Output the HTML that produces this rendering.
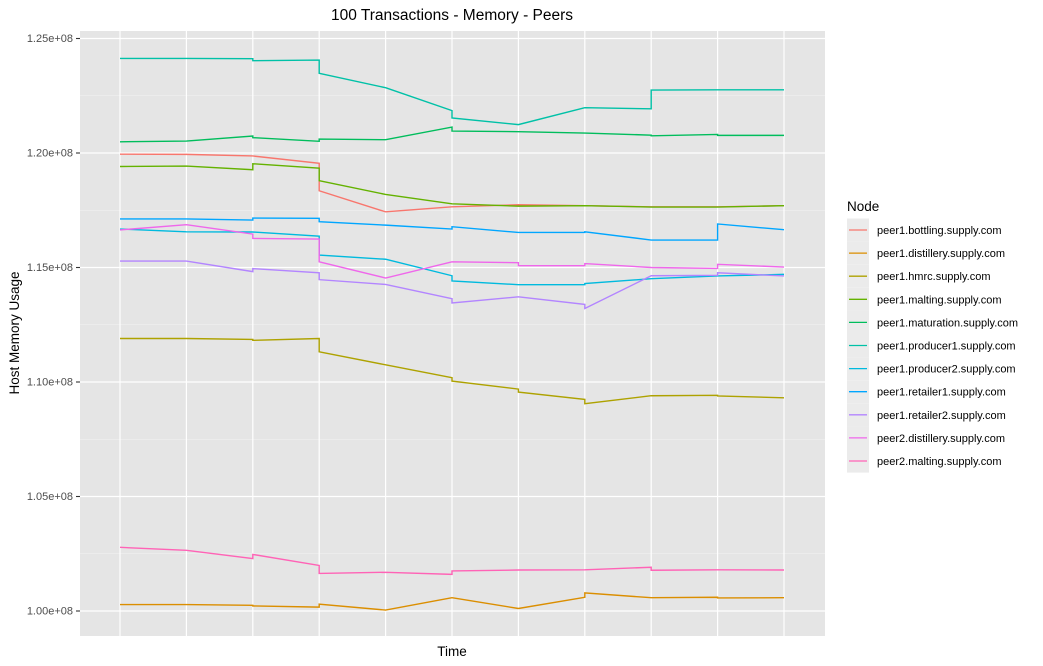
<!DOCTYPE html>
<html><head><meta charset="utf-8"><style>
body{margin:0;background:#fff;}
svg{display:block;font-family:"Liberation Sans",Arial,sans-serif;}
</style></head><body>
<svg id="chart" width="1043" height="666"></svg>
<script>
const nodeNames=["peer1.bottling.supply.com","peer1.distillery.supply.com","peer1.hmrc.supply.com","peer1.malting.supply.com","peer1.maturation.supply.com","peer1.producer1.supply.com","peer1.producer2.supply.com","peer1.retailer1.supply.com","peer1.retailer2.supply.com","peer2.distillery.supply.com","peer2.malting.supply.com"];
const nodeColors=["#F8766D","#DB8E00","#AEA200","#64B200","#00BD5C","#00C1A7","#00BADE","#00A6FF","#B385FF","#EF67EB","#FF63B6"];
const yTicks=[100,105,110,115,120,125];
const yTickLabels=["1.00e+08","1.05e+08","1.10e+08","1.15e+08","1.20e+08","1.25e+08"];
const timeIndex=[0,1,2,3,4,5,6,7,8,9,10];
// each series: [time index, memory in millions]
const bottling=[[0,119.95],[1,119.94],[2,119.87],[3,119.55],[3,118.35],[4,117.43],[5,117.65],[6,117.74],[7,117.70],[8,117.65],[9,117.65],[10,117.70]];
const distillery=[[0,100.28],[1,100.28],[2,100.25],[2,100.22],[3,100.17],[3,100.30],[4,100.04],[5,100.58],[6,100.11],[7,100.60],[7,100.79],[8,100.58],[9,100.60],[9,100.57],[10,100.58]];
const hmrc=[[0,111.90],[1,111.90],[2,111.86],[2,111.82],[3,111.90],[3,111.32],[4,110.75],[5,110.19],[5,110.04],[6,109.69],[6,109.56],[7,109.24],[7,109.05],[8,109.40],[9,109.42],[9,109.39],[10,109.31]];
const malting=[[0,119.41],[1,119.43],[2,119.27],[2,119.53],[3,119.34],[3,118.79],[4,118.19],[5,117.78],[6,117.68],[7,117.70],[8,117.64],[9,117.64],[10,117.70]];
const maturation=[[0,120.49],[1,120.52],[2,120.74],[2,120.67],[3,120.51],[3,120.61],[4,120.58],[5,121.13],[5,120.96],[6,120.93],[7,120.87],[8,120.78],[8,120.75],[9,120.81],[9,120.77],[10,120.77]];
const producer1=[[0,124.13],[1,124.13],[2,124.12],[2,124.03],[3,124.06],[3,123.48],[4,122.85],[5,121.85],[5,121.53],[6,121.24],[7,121.98],[8,121.93],[8,122.75],[9,122.76],[10,122.76]];
const producer2=[[0,116.68],[1,116.56],[2,116.55],[3,116.37],[3,115.54],[4,115.36],[5,114.64],[5,114.41],[6,114.25],[7,114.25],[7,114.30],[8,114.51],[9,114.63],[10,114.70]];
const retailer1=[[0,117.12],[1,117.12],[2,117.07],[2,117.16],[3,117.15],[3,117.00],[4,116.85],[5,116.68],[5,116.78],[6,116.53],[7,116.53],[7,116.56],[8,116.20],[9,116.20],[9,116.90],[10,116.65]];
const retailer2=[[0,115.28],[1,115.28],[2,114.82],[2,114.95],[3,114.77],[3,114.47],[4,114.26],[5,113.64],[5,113.45],[6,113.72],[7,113.39],[7,113.21],[8,114.64],[9,114.66],[9,114.77],[10,114.63]];
const distillery2=[[0,116.64],[1,116.87],[2,116.46],[2,116.27],[3,116.24],[3,115.25],[4,114.54],[5,115.25],[6,115.21],[6,115.08],[7,115.08],[7,115.17],[8,115.00],[9,114.96],[9,115.14],[10,115.02]];
const malting2=[[0,102.78],[1,102.65],[2,102.29],[2,102.47],[3,101.99],[3,101.64],[4,101.69],[5,101.60],[5,101.75],[6,101.79],[7,101.80],[8,101.91],[8,101.78],[9,101.80],[10,101.79]];
const seriesList=[bottling,distillery,hmrc,malting,maturation,producer1,producer2,retailer1,retailer2,distillery2,malting2];

const NS="http://www.w3.org/2000/svg";
const svg=document.getElementById('chart');
const PL=80,PR=825,PT=31,PB=636;
function xs(i){return 120+i*(784-120)/10;}
function ys(v){return 611-(v-100)*22.9;}
function el(tag,attrs,parent){const e=document.createElementNS(NS,tag);for(const k in attrs)e.setAttribute(k,attrs[k]);(parent||svg).appendChild(e);return e;}
function txt(s,attrs){const t=el('text',attrs);t.textContent=s;return t;}

const panel=el('rect',{x:PL,y:PT,width:PR-PL,height:PB-PT,fill:'#E5E5E5'});


for(let k=0;k<yTicks.length-1;k++){
  const g=el('line',{x1:PL,x2:PR,y1:ys((yTicks[k]+yTicks[k+1])/2),y2:ys((yTicks[k]+yTicks[k+1])/2),stroke:'#F2F2F2','stroke-width':0.6});
  
  
}
yTicks.forEach((v,k)=>{
  const g=el('line',{x1:PL,x2:PR,y1:ys(v),y2:ys(v),stroke:'#fff','stroke-width':1.2});
  
  
  const t=el('line',{x1:PL-4,x2:PL,y1:ys(v),y2:ys(v),stroke:'#333','stroke-width':1.1});
  
  
  const l=txt(yTickLabels[k],{x:PL-7,y:ys(v)+3.5,'font-size':11,fill:'#4D4D4D','text-anchor':'end'});
  
  
});
timeIndex.forEach(i=>{
  const g=el('line',{x1:xs(i),x2:xs(i),y1:PT,y2:PB,stroke:'#fff','stroke-width':1.2});
  
  
});
seriesList.forEach((s,k)=>{
  const p=el('polyline',{points:s.map(d=>xs(d[0])+','+ys(d[1])).join(' '),fill:'none',stroke:nodeColors[k],'stroke-width':1.4});
  
  
});
const title=txt('100 Transactions - Memory - Peers',{x:452,y:20,'font-size':15.5,fill:'#000','text-anchor':'middle'});


const xt=txt('Time',{x:452,y:656,'font-size':13.5,fill:'#000','text-anchor':'middle'});


const yt=txt('Host Memory Usage',{x:0,y:0,'font-size':13.5,fill:'#000','text-anchor':'middle',transform:'translate(19,333) rotate(-90)'});


const lt=txt('Node',{x:847,y:211,'font-size':13.5,fill:'#000'});


nodeNames.forEach((n,k)=>{
  const cy=230+k*23.1;
  const bg=el('rect',{x:847,y:cy-11.5,width:22,height:23.1,fill:'#EBEBEB'});
  
  
  const ln=el('line',{x1:849,x2:867,y1:cy,y2:cy,stroke:nodeColors[k],'stroke-width':1.3});
  
  
  const t=txt(n,{x:877,y:cy+4,'font-size':11,fill:'#000'});
  
  
});
</script>
</body></html>
